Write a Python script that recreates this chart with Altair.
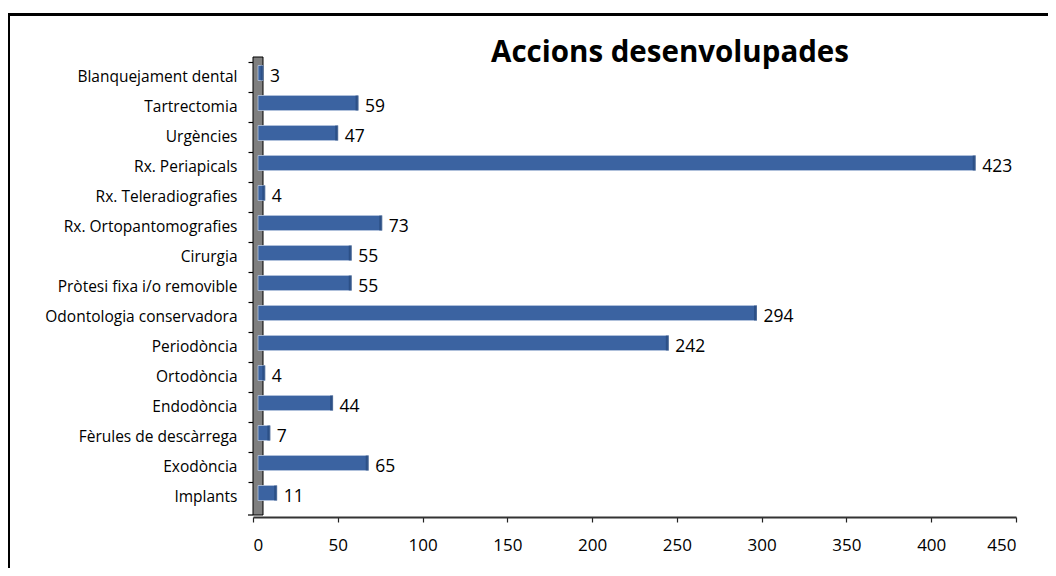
import altair as alt
import pandas as pd

categories = [
    "Blanquejament dental", "Tartrectomia", "Urgències", "Rx. Periapicals",
    "Rx. Teleradiografies", "Rx. Ortopantomografies", "Cirurgia",
    "Pròtesi fixa i/o removible", "Odontologia conservadora", "Periodòncia",
    "Ortodòncia", "Endodòncia", "Fèrules de descàrrega", "Exodòncia", "Implants",
]
values = [3, 59, 47, 423, 4, 73, 55, 55, 294, 242, 4, 44, 7, 65, 11]
x_ticks = [0, 50, 100, 150, 200, 250, 300, 350, 400, 450]
title_text = "Accions desenvolupades"

df = pd.DataFrame({"cat": categories, "val": values})
one = pd.DataFrame({"k": [0]})

FONT = "Open Sans"
W, H = 763, 450

x_enc = alt.X("val:Q", scale=alt.Scale(domain=[0, 450], nice=False),
              axis=alt.Axis(values=x_ticks, title=None, grid=False, offset=5,
                            domainColor="#333333", domainWidth=2,
                            tickColor="#222222", tickSize=5, tickWidth=1.2,
                            labelFont=FONT, labelFontSize=17, labelColor="#000000",
                            labelPadding=15))
y_enc = alt.Y("cat:N", sort=categories,
              scale=alt.Scale(paddingInner=0, paddingOuter=0),
              axis=alt.Axis(title=None, bandPosition=0, domainColor="#000000",
                            domainWidth=1, tickColor="#000000", tickSize=5,
                            tickWidth=1.2, labelFont=FONT, labelFontSize=15.5,
                            labelColor="#000000", labelPadding=11, labelLimit=400))

base = alt.Chart(df)
deco = alt.Chart(one)

frame = deco.mark_rect(fill=None, stroke="#000000", strokeWidth=3).encode(
    x=alt.value(-244.5), x2=alt.value(W + 60), y=alt.value(-47.5), y2=alt.value(H + 80)
)

wall = deco.mark_rect(fill="#7f7f7f", stroke="#000000", strokeWidth=1).encode(
    x=alt.value(0), x2=alt.value(10), y=alt.value(-5), y2=alt.value(H + 3)
)

bars = base.mark_bar(height={"band": 0.5}, yOffset=-4, xOffset=5,
                     color="#3B63A1", stroke="#B4C4DD", strokeWidth=0.8).encode(
    x=x_enc, y=y_enc
)

caps = base.mark_tick(orient="vertical", thickness=3, size=15, yOffset=-4, xOffset=4,
                      color="#27487C").encode(x="val:Q", y=alt.Y("cat:N", sort=categories))

labels = base.mark_text(align="left", baseline="middle", dx=12, font=FONT,
                        fontSize=17.5, color="#000000").encode(
    x="val:Q", y=alt.Y("cat:N", sort=categories), text="val:Q"
)

bottom_tick = deco.mark_rule(color="#000000", strokeWidth=1.2).encode(
    x=alt.value(-5), x2=alt.value(0), y=alt.value(H + 3)
)

title = deco.mark_text(text=title_text, font=FONT, fontSize=29.5, fontWeight="bold",
                       align="center", baseline="alphabetic", color="#000000").encode(
    x=alt.value(417), y=alt.value(0)
)

chart = alt.layer(frame, wall, bars, caps, labels, bottom_tick, title).properties(
    width=W, height=H,
    padding={"left": 245, "top": 54, "right": 32, "bottom": 56},
    autosize=alt.AutoSizeParams(type="none"),
).configure(background="white").configure_view(stroke=None)

chart.save("out.html", embed_options={"renderer": "svg", "actions": False})
